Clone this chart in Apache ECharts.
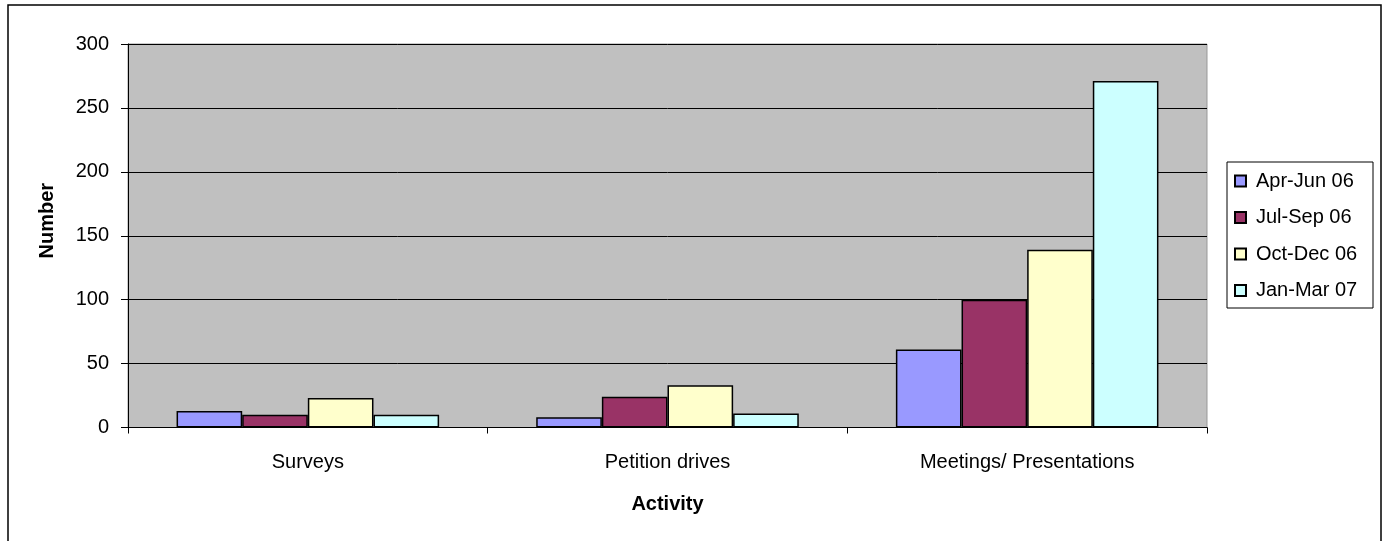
<!DOCTYPE html>
<html>
<head>
<meta charset="utf-8">
<script src="https://cdn.jsdelivr.net/npm/echarts@6/dist/echarts.min.js"></script>
<style>
  html, body { margin: 0; padding: 0; background: #fff; }
  #chart { width: 1387px; height: 541px; }
</style>
</head>
<body>
<div id="chart"></div>
<script>
// Outreach activities by quarter
const categories = ['Surveys', 'Petition drives', 'Meetings/ Presentations'];
const seriesNames = ['Apr-Jun 06', 'Jul-Sep 06', 'Oct-Dec 06', 'Jan-Mar 07'];
const aprJun06 = [13, 8, 61];
const julSep06 = [10, 24, 100];
const octDec06 = [23, 33, 139];
const janMar07 = [10, 11, 271];
const seriesValues = [aprJun06, julSep06, octDec06, janMar07];
const seriesColors = ['#9999FF', '#993366', '#FFFFCC', '#CCFFFF'];

const FONT = '"Liberation Sans", Arial, sans-serif';

const chart = echarts.init(document.getElementById('chart'));

chart.setOption({
  animation: false,
  backgroundColor: '#ffffff',
  textStyle: { fontFamily: FONT },
  graphic: [
    {
      type: 'rect',
      shape: { x: 8, y: 5, width: 1373, height: 545 },
      style: { fill: null, stroke: '#000', lineWidth: 1.5 },
      silent: true,
      z: 0
    },
    {
      type: 'rect',
      shape: { x: 1227, y: 162, width: 146, height: 146 },
      style: { fill: '#fff', stroke: '#000', lineWidth: 1 },
      silent: true,
      z: 1
    }
  ],
  grid: {
    left: 128,
    top: 44,
    right: 180,
    bottom: 113.5,
    show: true,
    backgroundColor: '#C0C0C0',
    borderColor: '#999999',
    borderWidth: 1
  },
  legend: {
    orient: 'vertical',
    left: 1226,
    top: 162,
    padding: [9, 8, 9, 8],
    itemWidth: 11,
    itemHeight: 11,
    itemGap: 16.5,
    icon: 'rect',
    z: 5,
    textStyle: {
      fontFamily: FONT,
      fontSize: 20,
      color: '#000',
      lineHeight: 20,
      padding: [0, 0, 0, 5]
    },
    data: seriesNames
  },
  xAxis: {
    type: 'category',
    data: categories,
    name: 'Activity',
    nameLocation: 'middle',
    nameGap: 67,
    nameTextStyle: { fontFamily: FONT, fontSize: 20, fontWeight: 'bold', color: '#000' },
    axisLine: { show: true, lineStyle: { color: '#000', width: 1 } },
    axisTick: { show: true, length: 6, inside: false, lineStyle: { color: '#000' } },
    axisLabel: { fontFamily: FONT, fontSize: 20, color: '#000', margin: 25 },
    splitLine: { show: false }
  },
  yAxis: {
    type: 'value',
    min: 0,
    max: 300,
    interval: 50,
    name: 'Number',
    nameLocation: 'middle',
    nameRotate: 90,
    nameGap: 71,
    nameTextStyle: { fontFamily: FONT, fontSize: 20, fontWeight: 'bold', color: '#000', padding: [0, 0, 0, 30] },
    axisLine: { show: true, lineStyle: { color: '#000', width: 1 } },
    axisTick: { show: true, length: 7, lineStyle: { color: '#000' } },
    axisLabel: { fontFamily: FONT, fontSize: 20, color: '#000', margin: 19 },
    splitLine: { show: true, lineStyle: { color: '#000', width: 1 } }
  },
  series: seriesNames.map((name, i) => ({
    name: name,
    type: 'bar',
    data: seriesValues[i],
    barGap: '0%',
    barCategoryGap: '27%',
    itemStyle: {
      color: seriesColors[i],
      borderColor: '#000',
      borderWidth: 1.5
    },
    emphasis: { disabled: true }
  }))
});
</script>
</body>
</html>
